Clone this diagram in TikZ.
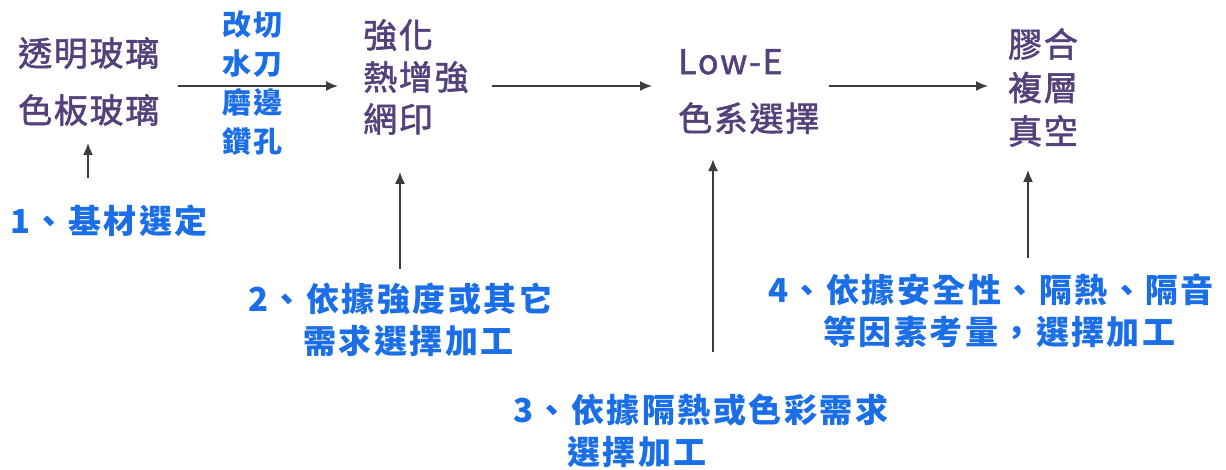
\documentclass[tikz,border=0pt]{standalone}
\usepackage{fontspec}
\setmainfont{Noto Sans CJK TC}
\newfontfamily\purfont{Noto Sans CJK TC}[LetterSpace=5, FakeBold=1.6]
\newfontfamily\blufont{Noto Sans CJK TC}[LetterSpace=7.5]
\usetikzlibrary{arrows.meta}
\definecolor{purp}{HTML}{54407A}
\definecolor{blu}{HTML}{1A6EE8}
\definecolor{arrowgray}{HTML}{3C3C3C}
\tikzset{
  mainbox/.style={inner sep=0pt, text=purp, align=left, anchor=west},
  cutbox/.style={inner sep=0pt, text=blu, align=left, anchor=west, font=\blufont\bfseries\fontsize{29}{39}\selectfont},
  notebox/.style={inner sep=0pt, text=blu, align=left, anchor=north west, font=\blufont\bfseries\fontsize{33}{42}\selectfont},
  flow/.style={draw=arrowgray, line width=1.8pt, -{Latex[length=12pt,width=10pt]}},
}
\begin{document}
\begin{tikzpicture}[x=1pt,y=-1pt]
\fill[white] (0,0) rectangle (1226,470);
\useasboundingbox (0,0) rectangle (1226,470);
% main stages
\node[mainbox, font=\purfont\fontsize{34}{57}\selectfont] (A) at (18,81.5) {透明玻璃\\色板玻璃};
\node[mainbox, font=\purfont\fontsize{34}{42}\selectfont] (B) at (363,77) {強化\\熱增強\\網印};
\node[mainbox, font=\purfont\fontsize{34}{57}\selectfont] (C) at (678,91.5) {Low-E\\色系選擇};
\node[mainbox, font=\purfont\fontsize{34}{43.5}\selectfont] (D) at (1008,87.5) {膠合\\複層\\真空};
% cut list
\node[cutbox] (cut) at (222,83.5) {改切\\水刀\\磨邊\\鑽孔};
% notes
\node[notebox, anchor=west] (L1) at (10,221) {1、基材選定};
\node[notebox] (L2) at (248,283) {2、依據強度或其它\\\hspace*{55pt}需求選擇加工};
\node[notebox] (L3) at (513,394) {3、依據隔熱或色彩需求\\\hspace*{54pt}選擇加工};
\node[notebox] (L4) at (768,274) {4、依據安全性、隔熱、隔音\\\hspace*{55pt}等因素考量，選擇加工};
% horizontal flow
\coordinate (row) at (0,86);
\draw[flow, shorten <=18pt, shorten >=25pt] (A.east |- row) -- (B.west |- row);
\draw[flow, shorten <=23pt, shorten >=26pt] (B.east |- row) -- (C.west |- row);
\draw[flow, shorten <=9pt, shorten >=20pt] (C.east |- row) -- (D.west |- row);
% vertical arrows
\coordinate (v1) at (88,0);
\coordinate (v2) at (400,0);
\coordinate (v3) at (713,0);
\coordinate (v4) at (1028,0);
\draw[flow, shorten <=27pt, shorten >=17pt] (L1.north -| v1) -- (A.south -| v1);
\draw[flow, shorten <=14pt, shorten >=37pt] (L2.north -| v2) -- (B.south -| v2);
\draw[flow, shorten <=42pt, shorten >=25pt] (L3.north -| v3) -- (C.south -| v3);
\draw[flow, shorten <=16pt, shorten >=23pt] (L4.north -| v4) -- (D.south -| v4);
\end{tikzpicture}
\end{document}
